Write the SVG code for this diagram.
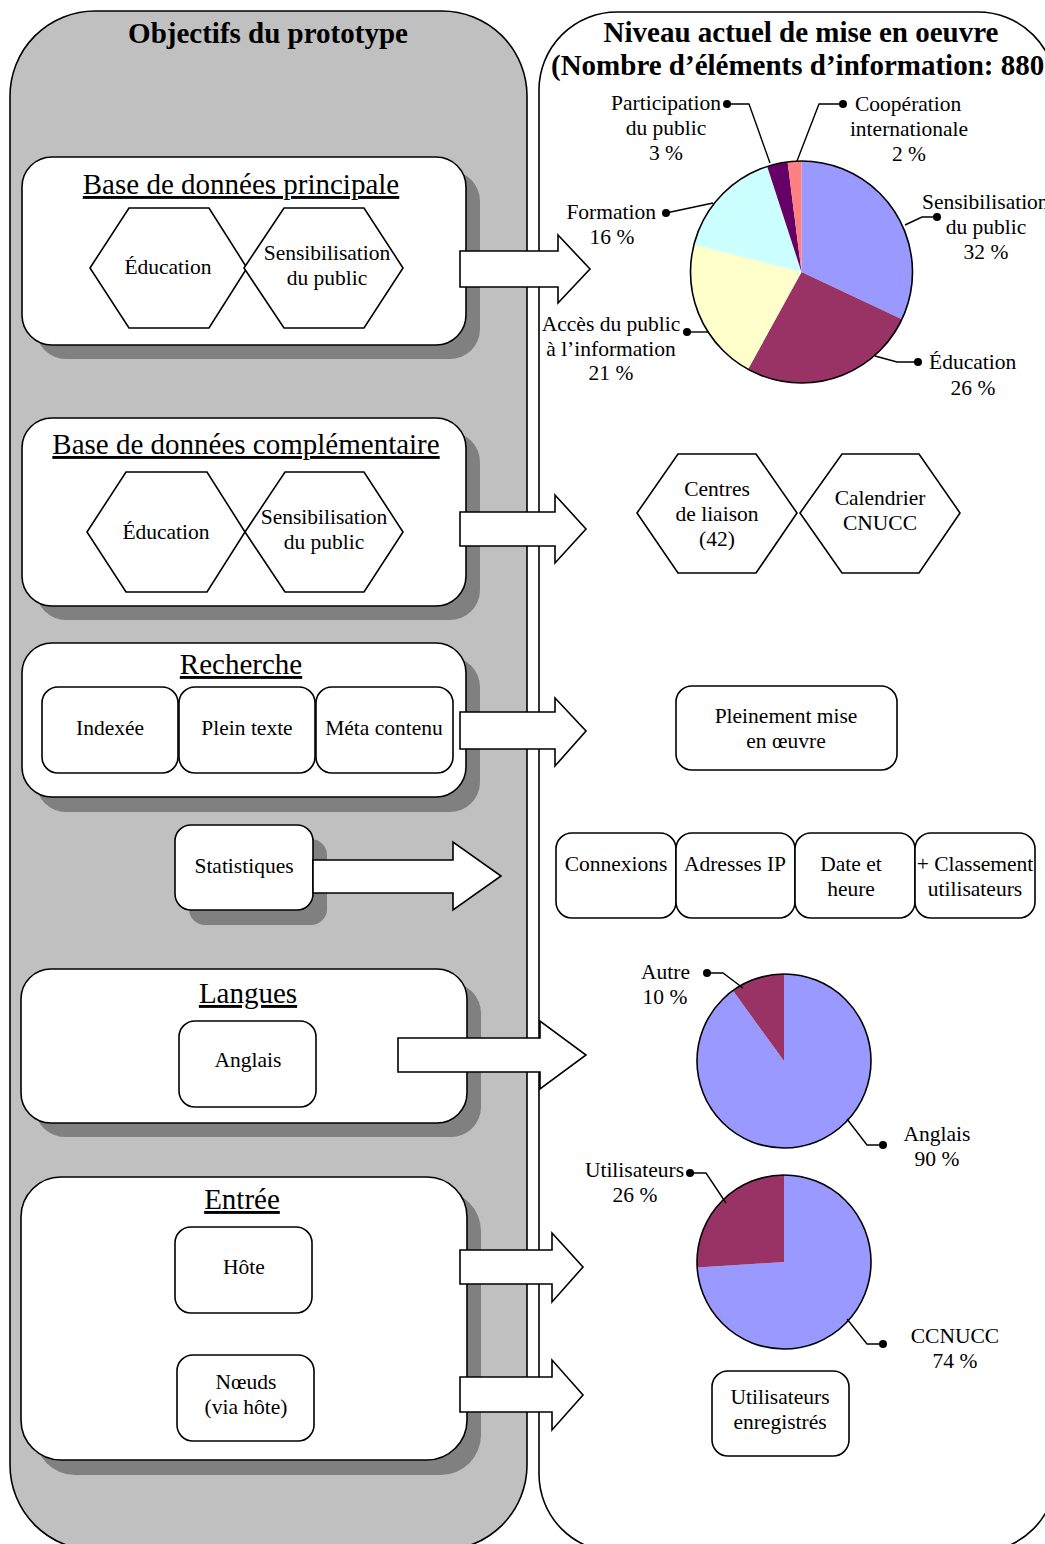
<svg xmlns="http://www.w3.org/2000/svg" width="1045" height="1544" viewBox="0 0 1045 1544">
<style>
text{font-family:"Liberation Serif","Times New Roman",serif;fill:#000}
.h{font-size:29px;font-weight:bold;text-anchor:middle}
.t{font-size:29px;text-anchor:middle;text-decoration:underline}
.l{font-size:21.5px;text-anchor:middle}
.ls{font-size:21.5px;text-anchor:start}
.le{font-size:21.5px;text-anchor:end}
.box{fill:#fff;stroke:#000;stroke-width:1.6}
.sh{fill:#808080}
.arr{fill:#fff;stroke:#000;stroke-width:1.6;stroke-linejoin:miter}
.lead{fill:none;stroke:#000;stroke-width:1.4}
.dot{fill:#000}
</style>
<rect x="0" y="0" width="1045" height="1544" fill="#fff"/>
<g id="panel-left">
<rect x="10" y="11" width="517" height="1539" rx="85" ry="85" fill="#C0C0C0" stroke="#000" stroke-width="1.6"/>
<text class="h" x="268" y="43">Objectifs du prototype</text>
</g>
<g id="panel-right">
<rect x="539" y="12" width="517" height="1540" rx="78" ry="78" fill="#fff" stroke="#000" stroke-width="1.6"/>
<text class="h" x="801" y="42">Niveau actuel de mise en oeuvre</text>
<text class="h" x="551" y="75" style="text-anchor:start">(Nombre d’éléments d’information: 880)</text>
</g>

<g id="box-principale">
<rect class="sh" x="36" y="171" width="444" height="188" rx="30"/>
<rect class="box" x="22" y="157" width="444" height="188" rx="30"/>
<text class="t" x="241" y="194">Base de données principale</text>
<polygon class="box" points="90,268 129,208 209,208 247,268 209,328 129,328"/>
<text class="l" x="168" y="274">Éducation</text>
<polygon class="box" points="244,268 284,208 364,208 403,268 364,328 284,328"/>
<text class="l" x="327" y="260">Sensibilisation</text>
<text class="l" x="327" y="285">du public</text>
</g>

<g id="box-complementaire">
<rect class="sh" x="36" y="432" width="444" height="188" rx="30"/>
<rect class="box" x="22" y="418" width="444" height="188" rx="30"/>
<text class="t" x="246" y="454">Base de données complémentaire</text>
<polygon class="box" points="87,532 126,472 207,472 245,532 207,592 126,592"/>
<text class="l" x="166" y="539">Éducation</text>
<polygon class="box" points="245,532 285,472 364,472 403,532 364,592 285,592"/>
<text class="l" x="324" y="524">Sensibilisation</text>
<text class="l" x="324" y="549">du public</text>
</g>

<g id="box-recherche">
<rect class="sh" x="36" y="657" width="444" height="155" rx="30"/>
<rect class="box" x="22" y="643" width="444" height="154" rx="30"/>
<text class="t" x="241" y="674">Recherche</text>
<rect class="box" x="42" y="687" width="136" height="86" rx="16"/>
<text class="l" x="110" y="735">Indexée</text>
<rect class="box" x="179" y="687" width="136" height="86" rx="16"/>
<text class="l" x="247" y="735">Plein texte</text>
<rect class="box" x="316" y="687" width="137" height="86" rx="16"/>
<text class="l" x="384" y="735">Méta contenu</text>
</g>

<g id="box-statistiques">
<rect class="sh" x="189" y="839" width="138" height="86" rx="16"/>
<rect class="box" x="175" y="825" width="138" height="85" rx="16"/>
<text class="l" x="244" y="873">Statistiques</text>
</g>

<g id="box-langues">
<rect class="sh" x="35" y="983" width="446" height="154" rx="30"/>
<rect class="box" x="21" y="969" width="446" height="154" rx="30"/>
<text class="t" x="248" y="1003">Langues</text>
<rect class="box" x="179" y="1021" width="137" height="86" rx="16"/>
<text class="l" x="248" y="1067">Anglais</text>
</g>

<g id="box-entree">
<rect class="sh" x="35" y="1191" width="446" height="284" rx="40"/>
<rect class="box" x="21" y="1177" width="446" height="283" rx="40"/>
<text class="t" x="242" y="1209">Entrée</text>
<rect class="box" x="175" y="1227" width="137" height="86" rx="16"/>
<text class="l" x="244" y="1274">Hôte</text>
<rect class="box" x="177" y="1355" width="137" height="86" rx="16"/>
<text class="l" x="246" y="1389">Nœuds</text>
<text class="l" x="246" y="1414">(via hôte)</text>
</g>

<g id="connectors">
<polygon class="arr" points="460,251 558,251 558,235 590,269 558,303 558,287 460,287"/>
<polygon class="arr" points="460,512 555,512 555,495 586,529 555,563 555,546 460,546"/>
<polygon class="arr" points="460,712 555,712 555,698 586,731 555,766 555,749 460,749"/>
<polygon class="arr" points="313,860 453,860 453,842 501,876 453,910 453,893 313,893"/>
<polygon class="arr" points="398,1038 540,1038 540,1021 586,1055 540,1089 540,1072 398,1072"/>
<polygon class="arr" points="460,1250 552,1250 552,1233 583,1267 552,1302 552,1284 460,1284"/>
<polygon class="arr" points="460,1377 552,1377 552,1360 583,1395 552,1430 552,1412 460,1412"/>
</g>

<g id="pie-elements">
<path d="M801.5,272 L801.5,161 A111,111 0 0 1 901.93,319.26 Z" fill="#9999FF"/>
<path d="M801.5,272 L901.93,319.26 A111,111 0 0 1 748.02,369.27 Z" fill="#993366"/>
<path d="M801.5,272 L748.02,369.27 A111,111 0 0 1 693.99,244.39 Z" fill="#FFFFCC"/>
<path d="M801.5,272 L693.99,244.39 A111,111 0 0 1 767.20,166.43 Z" fill="#CCFFFF"/>
<path d="M801.5,272 L767.20,166.43 A111,111 0 0 1 787.59,161.88 Z" fill="#660066"/>
<path d="M801.5,272 L787.59,161.88 A111,111 0 0 1 801.5,161 Z" fill="#FF8080"/>
<circle cx="801.5" cy="272" r="111" fill="none" stroke="#000" stroke-width="1.6"/>
<polyline class="lead" points="727,104 749,104 770,163"/>
<circle class="dot" cx="727" cy="104" r="4"/>
<polyline class="lead" points="843,104 819,104 797,161"/>
<circle class="dot" cx="843" cy="104" r="4"/>
<polyline class="lead" points="937,217 922,217 905,225"/>
<circle class="dot" cx="937" cy="217" r="4"/>
<polyline class="lead" points="918,362 897,362 875,356"/>
<circle class="dot" cx="918" cy="362" r="4"/>
<polyline class="lead" points="687,332 709,332"/>
<circle class="dot" cx="687" cy="332" r="4"/>
<polyline class="lead" points="666,213 713,203"/>
<circle class="dot" cx="666" cy="213" r="4"/>
<text class="l" x="666" y="110">Participation</text>
<text class="l" x="666" y="135">du public</text>
<text class="l" x="666" y="160">3 %</text>
<text class="ls" x="855" y="111">Coopération</text>
<text class="l" x="909" y="136">internationale</text>
<text class="l" x="909" y="161">2 %</text>
<text class="ls" x="922" y="209">Sensibilisation</text>
<text class="l" x="986" y="234">du public</text>
<text class="l" x="986" y="259">32 %</text>
<text class="ls" x="929" y="369">Éducation</text>
<text class="l" x="973" y="395">26 %</text>
<text class="l" x="611" y="331">Accès du public</text>
<text class="l" x="611" y="356">à l’information</text>
<text class="l" x="611" y="380">21 %</text>
<text class="le" x="656" y="219">Formation</text>
<text class="l" x="612" y="244">16 %</text>
</g>

<g id="hex-centres">
<polygon class="box" points="637,513 678,454 756,454 797,513 756,573 678,573"/>
<text class="l" x="717" y="496">Centres</text>
<text class="l" x="717" y="521">de liaison</text>
<text class="l" x="717" y="546">(42)</text>
</g>
<g id="hex-calendrier">
<polygon class="box" points="800,513 842,454 919,454 960,513 919,573 842,573"/>
<text class="l" x="880" y="505">Calendrier</text>
<text class="l" x="880" y="530">CNUCC</text>
</g>

<g id="box-pleinement">
<rect class="box" x="676" y="686" width="221" height="84" rx="16"/>
<text class="l" x="786" y="723">Pleinement mise</text>
<text class="l" x="786" y="748">en œuvre</text>
</g>

<g id="stats-items">
<rect class="box" x="556" y="833" width="120" height="85" rx="16"/>
<text class="l" x="616" y="871">Connexions</text>
<rect class="box" x="676" y="833" width="119" height="85" rx="16"/>
<text class="l" x="735" y="871">Adresses IP</text>
<rect class="box" x="795" y="833" width="120" height="85" rx="16"/>
<text class="l" x="851" y="871">Date et</text>
<text class="l" x="851" y="896">heure</text>
<rect class="box" x="915" y="833" width="120" height="85" rx="16"/>
<text class="l" x="975" y="871">+ Classement</text>
<text class="l" x="975" y="896">utilisateurs</text>
</g>

<g id="pie-langues">
<path d="M784,1061 L784,974 A87,87 0 1 1 732.86,990.62 Z" fill="#9999FF"/>
<path d="M784,1061 L732.86,990.62 A87,87 0 0 1 784,974 Z" fill="#993366"/>
<circle cx="784" cy="1061" r="87" fill="none" stroke="#000" stroke-width="1.6"/>
<polyline class="lead" points="707,973 723,973 743,988"/>
<circle class="dot" cx="707" cy="973" r="4"/>
<polyline class="lead" points="883,1145 867,1145 847,1119"/>
<circle class="dot" cx="883" cy="1145" r="4"/>
<text class="le" x="690" y="979">Autre</text>
<text class="l" x="665" y="1004">10 %</text>
<text class="l" x="937" y="1141">Anglais</text>
<text class="l" x="937" y="1166">90 %</text>
</g>

<g id="pie-entree">
<path d="M784,1262 L784,1175 A87,87 0 1 1 697.17,1267.46 Z" fill="#9999FF"/>
<path d="M784,1262 L697.17,1267.46 A87,87 0 0 1 784,1175 Z" fill="#993366"/>
<circle cx="784" cy="1262" r="87" fill="none" stroke="#000" stroke-width="1.6"/>
<polyline class="lead" points="690,1173 706,1173 726,1203"/>
<circle class="dot" cx="690" cy="1173" r="4"/>
<polyline class="lead" points="883,1344 867,1344 847,1319"/>
<circle class="dot" cx="883" cy="1344" r="4"/>
<text class="le" x="684" y="1177">Utilisateurs</text>
<text class="l" x="635" y="1202">26 %</text>
<text class="l" x="955" y="1343">CCNUCC</text>
<text class="l" x="955" y="1368">74 %</text>
</g>

<g id="box-utilisateurs">
<rect class="box" x="712" y="1371" width="137" height="85" rx="16"/>
<text class="l" x="780" y="1404">Utilisateurs</text>
<text class="l" x="780" y="1429">enregistrés</text>
</g>
</svg>
